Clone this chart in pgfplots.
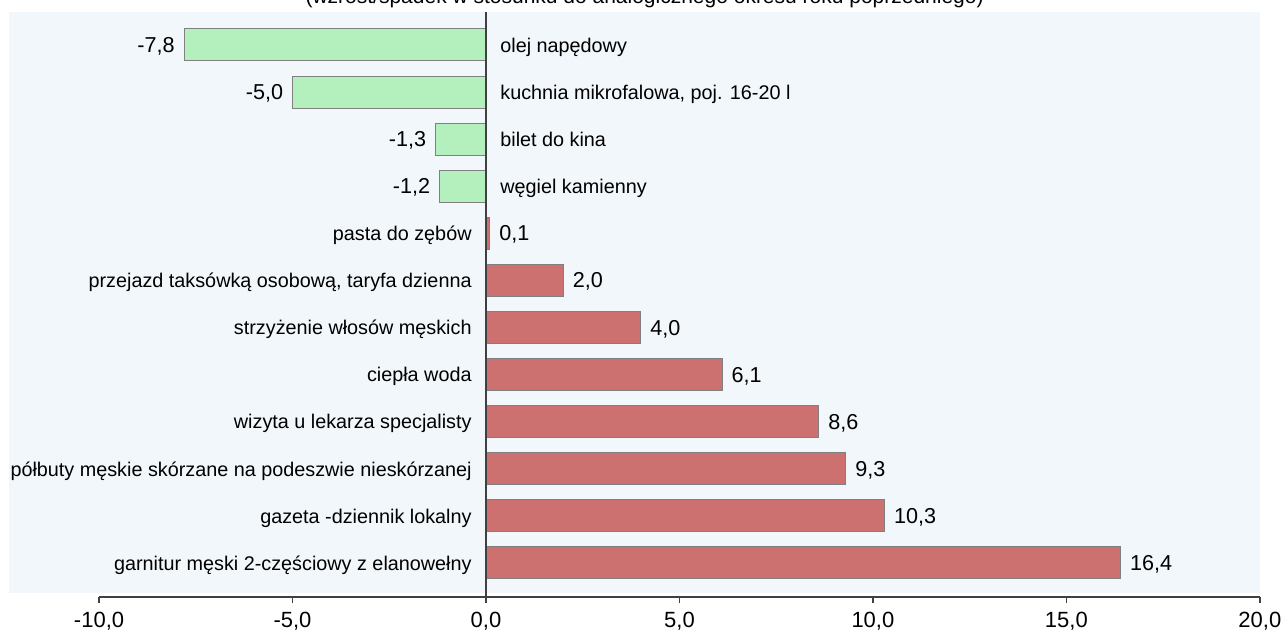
\documentclass[border=0pt]{standalone}
\usepackage{pgfplots}
\pgfplotsset{compat=1.18}
\usepackage{fontspec}
\setmainfont{Liberation Sans}
\definecolor{bgc}{HTML}{F2F7FB}
\definecolor{grn}{HTML}{B3F0BE}
\definecolor{redb}{HTML}{CC7070}
\definecolor{edge}{HTML}{808080}
\definecolor{axc}{HTML}{404040}
\begin{document}
\begin{tikzpicture}
\begin{axis}[
  scale only axis, width=625.6pt, height=292.5pt,
  xmin=-12.33, xmax=20, ymin=-0.70, ymax=11.72,
  y dir=reverse,
  axis line style={draw=none},
  xtick={-10,-5,0,5,10,15,20}, ytick=\empty,
  xtick pos=left, tick align=outside,
  major tick length=3pt,
  tick style={axc, line width=0.7pt},
  /pgf/number format/fixed, /pgf/number format/fixed zerofill,
  /pgf/number format/precision=1, /pgf/number format/use comma,
  /pgf/number format/assume math mode=true,
  xticklabel style={font=\fontsize{11pt}{13pt}\selectfont, inner sep=0pt, yshift=-4.3pt},
  clip=false,
]
\fill[bgc] (axis cs:-12.33,-0.70) rectangle (axis cs:20,11.64);
\addplot[xbar, bar width=16pt, bar shift=0pt, fill=grn, draw=edge, line width=0.5pt,
  nodes near coords,
  every node near coord/.append style={anchor=east, inner sep=0pt, text depth=0pt, xshift=-4.5pt, black, font=\fontsize{10.8pt}{13pt}\selectfont}]
  coordinates {(-7.8,0) (-5.0,1) (-1.3,2) (-1.2,3)};
\addplot[xbar, bar width=16pt, bar shift=0pt, fill=redb, draw=edge, line width=0.5pt,
  nodes near coords,
  every node near coord/.append style={anchor=west, inner sep=0pt, text depth=0pt, xshift=4.5pt, black, font=\fontsize{10.8pt}{13pt}\selectfont}]
  coordinates {(0.1,4) (2.0,5) (4.0,6) (6.1,7) (8.6,8) (9.3,9) (10.3,10) (16.4,11)};
\addplot[xbar, bar width=16pt, bar shift=0pt, draw=none, fill=none,
  point meta=explicit symbolic, nodes near coords={\pgfplotspointmeta},
  every node near coord/.append style={anchor=west, inner sep=0pt, text depth=0pt, xshift=7pt, black, font=\fontsize{9.9pt}{12pt}\selectfont}]
  coordinates {(0,0) [olej napędowy] (0,1) [kuchnia mikrofalowa, poj. 16-20 l] (0,2) [bilet do kina] (0,3) [węgiel kamienny]};
\addplot[xbar, bar width=16pt, bar shift=0pt, draw=none, fill=none,
  point meta=explicit symbolic, nodes near coords={\pgfplotspointmeta},
  every node near coord/.append style={anchor=east, inner sep=0pt, text depth=0pt, xshift=-7pt, black, font=\fontsize{9.9pt}{12pt}\selectfont}]
  coordinates {(0,4) [pasta do zębów] (0,5) [przejazd taksówką osobową, taryfa dzienna] (0,6) [strzyżenie włosów męskich] (0,7) [ciepła woda] (0,8) [wizyta u lekarza specjalisty] (0,9) [półbuty męskie skórzane na podeszwie nieskórzanej] (0,10) [gazeta -dziennik lokalny] (0,11) [garnitur męski 2-częściowy z elanowełny]};
\draw[axc, line width=0.8pt] (axis cs:0,-0.70) -- (axis cs:0,11.72);
\draw[axc, line width=0.8pt] (axis cs:-10,11.72) -- (axis cs:20,11.72);
\node[anchor=base, font=\fontsize{10.5pt}{12pt}\selectfont] at (axis cs:4.1,-0.87) {(wzrost/spadek w stosunku do analogicznego okresu roku poprzedniego)};
\coordinate (bbA) at (axis cs:-12.56,12.44);
\coordinate (bbB) at (axis cs:20.65,-0.955);
\end{axis}
\pgfresetboundingbox
\useasboundingbox (bbA) rectangle (bbB);
\end{tikzpicture}
\end{document}
